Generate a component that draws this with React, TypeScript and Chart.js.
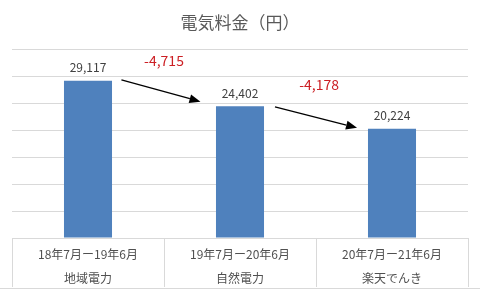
import React, { useEffect, useRef } from "react";
import { Chart, registerables } from "chart.js";

Chart.register(...registerables);

const TITLE = "電気料金（円）";
const periods = ["18年7月ー19年6月", "19年7月ー20年6月", "20年7月ー21年6月"];
const providers = ["地域電力", "自然電力", "楽天でんき"];
const costs = [29117, 24402, 20224];

const Y_MIN = 0;
const Y_MAX = 35000;
const Y_STEP = 5000;

// change annotations (data space: category index / yen)
const diffLabelX = [0.5, 1.52];
const diffLabelY = [32850, 28400];
const arrowFromX = [0.22, 1.23];
const arrowFromY = [29300, 24300];
const arrowToX = [0.74, 1.77];
const arrowToY = [25250, 20400];

const FONT = '"Noto Sans CJK JP", "Noto Sans", sans-serif';
const GRID = "#d9d9d9";

const annotationPlugin = {
  id: "annotations",
  afterDatasetsDraw(chart: any) {
    const { ctx, scales } = chart;
    const x = scales.x;
    const y = scales.y;
    ctx.save();
    // value labels
    ctx.font = `12px ${FONT}`;
    ctx.fillStyle = "#404040";
    ctx.textAlign = "center";
    ctx.textBaseline = "middle";
    costs.forEach((v, i) => {
      ctx.fillText(v.toLocaleString("en-US"), x.getPixelForValue(i), y.getPixelForValue(v) - 13);
    });
    // differences
    ctx.font = `14px ${FONT}`;
    ctx.fillStyle = "#cc1f24";
    for (let i = 0; i < costs.length - 1; i++) {
      const d = costs[i + 1] - costs[i];
      ctx.fillText(d.toLocaleString("en-US"), x.getPixelForValue(diffLabelX[i]), y.getPixelForValue(diffLabelY[i]));
    }
    // arrows
    ctx.strokeStyle = "#000";
    ctx.fillStyle = "#000";
    ctx.lineWidth = 1.3;
    for (let i = 0; i < arrowFromX.length; i++) {
      const x1 = x.getPixelForValue(arrowFromX[i]);
      const y1 = y.getPixelForValue(arrowFromY[i]);
      const x2 = x.getPixelForValue(arrowToX[i]);
      const y2 = y.getPixelForValue(arrowToY[i]);
      const ang = Math.atan2(y2 - y1, x2 - x1);
      const hl = 11;
      const hw = 4.5;
      const bx = x2 - hl * Math.cos(ang);
      const by = y2 - hl * Math.sin(ang);
      ctx.beginPath();
      ctx.moveTo(x1, y1);
      ctx.lineTo(bx, by);
      ctx.stroke();
      ctx.beginPath();
      ctx.moveTo(x2, y2);
      ctx.lineTo(bx + hw * Math.sin(ang), by - hw * Math.cos(ang));
      ctx.lineTo(bx - hw * Math.sin(ang), by + hw * Math.cos(ang));
      ctx.closePath();
      ctx.fill();
    }
    ctx.restore();
  },
  afterDraw(chart: any) {
    const { ctx, width, height } = chart;
    ctx.save();
    ctx.strokeStyle = GRID;
    ctx.lineWidth = 1;
    ctx.beginPath();
    ctx.moveTo(0, height - 5.5);
    ctx.lineTo(width, height - 5.5);
    ctx.stroke();
    ctx.restore();
  },
};

export default function App() {
  const ref = useRef<HTMLCanvasElement | null>(null);
  useEffect(() => {
    if (!ref.current) return;
    const chart = new Chart(ref.current, {
      type: "bar",
      data: {
        labels: periods.map((p, i) => [p, providers[i]]),
        datasets: [
          {
            data: costs,
            backgroundColor: "#4f81bd",
            barPercentage: 0.316,
            categoryPercentage: 1,
          },
        ],
      },
      options: {
        responsive: false,
        animation: false,
        layout: { padding: { left: 12, right: 12, top: 0, bottom: 6 } },
        plugins: {
          legend: { display: false },
          tooltip: { enabled: false },
          title: {
            display: true,
            text: TITLE,
            color: "#595959",
            font: { family: FONT, size: 17, weight: "normal", lineHeight: 1.2 },
            padding: { top: 12, bottom: 16.6 },
          },
        },
        scales: {
          x: {
            grid: {
              offset: true,
              drawOnChartArea: false,
              color: GRID,
              tickColor: GRID,
              tickLength: 49,
            },
            border: { color: GRID },
            ticks: {
              color: "#505050",
              font: { family: FONT, size: 12, lineHeight: 2 },
              padding: -45,
              maxRotation: 0,
              autoSkip: false,
            },
            afterFit: (s: any) => {
              s.height = 50;
            },
          },
          y: {
            min: Y_MIN,
            max: Y_MAX,
            ticks: { stepSize: Y_STEP, display: false },
            grid: { color: GRID, drawTicks: false },
            border: { display: false },
            afterFit: (s: any) => {
              s.width = 0;
            },
          },
        },
      },
      plugins: [annotationPlugin],
    });
    return () => chart.destroy();
  }, []);
  return (
    <div style={{ position: "fixed", left: 0, top: 0, width: 480, height: 294, background: "#fff" }}>
      <canvas ref={ref} width={480} height={294} style={{ display: "block" }} />
    </div>
  );
}
